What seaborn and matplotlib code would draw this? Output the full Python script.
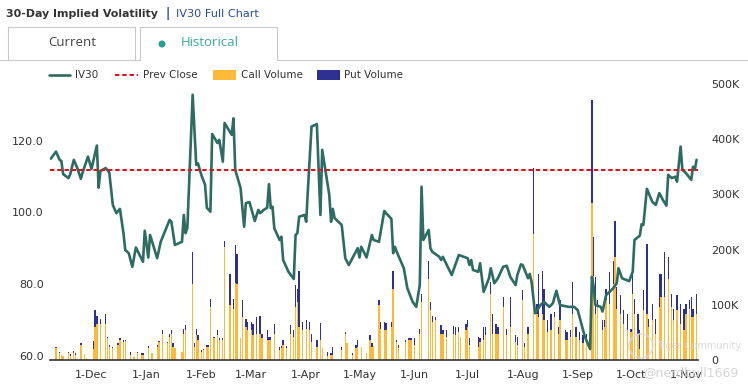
import pandas as pd
import seaborn as sns
import matplotlib.pyplot as plt
import matplotlib.ticker as mticker
from matplotlib.lines import Line2D
from matplotlib.patches import Rectangle, Circle

# all day offsets are counted from 1-Dec-2022
base = pd.Timestamp("2022-12-01")

# IV30 line (vertices)
iv_day = [-23, -20, -18, -17, -16, -13, -12, -10, -8, -6, -5, -2, 0, 3, 4, 5, 8, 10, 12, 14,
          16, 18, 19, 21, 23, 25, 29, 30, 32, 33, 37, 39, 44, 45, 47, 51, 52, 53, 54, 57,
          59, 60, 62, 64, 65, 67, 68, 71, 72, 74, 75, 79, 80, 81, 84, 86, 87, 89, 92, 94,
          95, 97, 99, 100, 101, 102, 103, 106, 107, 108, 111, 114, 115, 116, 117, 120, 121, 122, 124, 127,
          129, 130, 134, 135, 136, 137, 141, 143, 145, 150, 151, 152, 155, 158, 159, 162, 165, 166, 169, 170,
          171, 172, 176, 178, 181, 183, 185, 186, 187, 190, 191, 192, 196, 197, 198, 203, 207, 212, 213, 214,
          215, 218, 219, 221, 224, 225, 227, 229, 232, 234, 236, 239, 240, 242, 243, 246, 247, 248, 250, 253,
          255, 258, 260, 262, 264, 269, 272, 274, 278, 281, 282, 283, 284, 287, 288, 290, 294, 296, 297, 299,
          303, 305, 306, 309, 310, 311, 313, 316, 318, 320, 322, 324, 325, 327, 329, 330, 332, 333, 335, 338,
          339, 340, 341]
iv30 = [115.0, 117.0, 114.7, 114.4, 110.7, 109.6, 110.7, 114.7, 112.4, 109.4, 111.2, 115.6, 112.2, 118.7, 106.9, 111.6, 112.4, 111.2, 102.1, 99.8,
        101.0, 94.2, 89.5, 88.6, 84.8, 90.2, 86.2, 94.9, 87.4, 93.7, 87.2, 91.8, 97.9, 97.4, 90.9, 91.8, 99.3, 94.2, 95.6, 132.9,
        113.3, 113.7, 110.3, 107.7, 101.3, 100.2, 121.9, 119.4, 120.3, 114.2, 125.0, 121.7, 126.3, 111.9, 106.8, 96.0, 102.6, 102.9, 97.6, 100.7,
        99.8, 100.7, 101.3, 107.9, 101.2, 101.6, 95.6, 92.3, 93.2, 86.7, 83.4, 81.4, 93.7, 94.2, 98.8, 99.3, 97.4, 106.8, 124.0, 124.7,
        99.3, 117.5, 104.9, 97.4, 101.0, 98.4, 96.5, 87.2, 85.3, 90.0, 87.4, 90.4, 87.4, 93.7, 92.3, 91.8, 100.4, 99.8, 98.2, 88.6,
        90.4, 89.0, 84.4, 78.8, 75.0, 73.6, 79.7, 107.2, 92.3, 95.1, 90.0, 89.0, 87.6, 86.7, 87.6, 82.5, 88.1, 87.2, 85.3, 86.7,
        83.9, 83.4, 85.8, 77.8, 81.6, 84.4, 80.2, 81.6, 84.8, 85.1, 82.0, 79.7, 82.5, 85.5, 85.3, 81.6, 82.8, 80.6, 71.8, 74.1,
        75.0, 73.6, 74.6, 78.1, 74.1, 73.6, 73.6, 72.7, 65.3, 61.8, 82.0, 79.2, 74.1, 73.6, 72.3, 76.9, 78.8, 80.2, 84.4, 81.6,
        80.8, 83.4, 92.3, 93.5, 96.7, 96.5, 106.6, 103.0, 102.1, 105.4, 103.5, 101.9, 110.5, 109.6, 110.0, 108.6, 118.4, 111.9, 111.0, 109.1,
        112.8, 111.9, 114.7]
prev_close = 111.9

# option volume bars, in thousands of contracts
bar_day = [-23, -20, -18, -17, -16, -13, -12, -10, -9, -6, -4, -3, 1, 2, 3, 5, 8, 9, 10, 12,
           15, 16, 18, 19, 22, 24, 26, 28, 29, 32, 34, 37, 38, 40, 43, 44, 45, 46, 47, 51,
           52, 53, 57, 58, 59, 60, 62, 63, 65, 66, 67, 69, 71, 72, 74, 75, 78, 80, 81, 82,
           84, 85, 87, 88, 90, 91, 93, 95, 96, 99, 100, 101, 103, 106, 107, 108, 110, 112, 114, 115,
           116, 117, 119, 121, 123, 124, 127, 129, 130, 133, 135, 136, 141, 143, 144, 147, 149, 150, 152, 155,
           157, 158, 159, 162, 163, 165, 166, 169, 170, 172, 173, 177, 179, 180, 182, 185, 186, 190, 191, 192,
           194, 197, 198, 200, 204, 205, 207, 208, 211, 212, 213, 218, 219, 221, 222, 225, 226, 228, 229, 232,
           234, 236, 239, 240, 243, 244, 246, 249, 251, 252, 254, 255, 257, 259, 261, 263, 264, 267, 268, 270,
           271, 273, 275, 277, 279, 282, 283, 284, 285, 288, 289, 290, 292, 294, 295, 296, 298, 300, 302, 304,
           305, 306, 308, 309, 311, 313, 314, 316, 318, 320, 321, 323, 325, 327, 328, 330, 332, 334, 335, 337,
           338, 339, 341]
call_vol = [2, 21, 12, 9, 7, 12, 7, 13, 9, 27, 11, 3, 20, 60, 66, 65, 66, 39, 24, 21,
            27, 37, 33, 35, 9, 6, 12, 9, 9, 21, 12, 24, 33, 48, 30, 42, 48, 24, 21, 15,
            48, 54, 138, 24, 45, 36, 15, 18, 24, 24, 96, 39, 45, 36, 37, 204, 99, 93, 139, 138,
            39, 78, 60, 54, 54, 45, 48, 48, 39, 36, 36, 36, 48, 19, 21, 27, 21, 48, 42, 96,
            105, 60, 54, 57, 54, 33, 24, 36, 21, 7, 9, 9, 19, 48, 30, 9, 21, 24, 24, 12,
            36, 24, 25, 99, 57, 54, 54, 60, 129, 33, 21, 33, 36, 36, 27, 48, 105, 147, 90, 69,
            72, 48, 48, 42, 48, 45, 51, 41, 54, 60, 27, 24, 33, 36, 45, 120, 48, 48, 48, 96,
            45, 60, 33, 27, 108, 24, 48, 228, 84, 78, 84, 72, 51, 54, 78, 48, 72, 36, 36, 42,
            84, 42, 36, 30, 39, 285, 153, 84, 96, 54, 60, 108, 102, 138, 186, 93, 84, 66, 54, 50,
            120, 84, 48, 20, 90, 84, 60, 72, 48, 96, 114, 114, 147, 96, 72, 90, 66, 54, 84, 93,
            78, 78, 84]
put_vol = [0, 3, 3, 0, 0, 3, 4, 4, 4, 3, 0, 0, 15, 30, 13, 10, 18, 3, 3, 3,
           3, 2, 4, 2, 6, 0, 3, 3, 4, 4, 0, 3, 2, 6, 3, 6, 6, 6, 0, 0,
           9, 9, 57, 6, 12, 9, 3, 2, 3, 3, 15, 2, 9, 3, 2, 12, 57, 18, 70, 54,
           0, 31, 15, 15, 15, 20, 30, 31, 9, 19, 5, 5, 18, 4, 4, 10, 4, 15, 12, 39,
           24, 102, 15, 15, 15, 15, 12, 31, 0, 8, 4, 15, 5, 3, 0, 3, 6, 12, 0, 0,
           9, 6, 0, 10, 12, 15, 13, 9, 32, 4, 6, 4, 3, 3, 12, 9, 15, 33, 15, 10,
           6, 15, 6, 12, 13, 15, 9, 0, 11, 12, 12, 18, 6, 24, 15, 21, 36, 18, 12, 18,
           12, 54, 12, 15, 18, 6, 12, 120, 18, 78, 78, 57, 21, 30, 9, 12, 36, 18, 15, 12,
           57, 18, 15, 15, 9, 186, 69, 66, 12, 18, 12, 21, 57, 42, 66, 39, 33, 24, 30, 7,
           36, 27, 36, 34, 37, 126, 15, 30, 27, 60, 42, 81, 39, 24, 21, 27, 36, 39, 18, 15,
           36, 15, 36]

month_ticks = pd.date_range("2022-12-01", "2023-11-01", freq="MS")
month_labels = ["1-" + d.strftime("%b") for d in month_ticks]

iv_df = pd.DataFrame({"date": base + pd.to_timedelta(iv_day, unit="D"), "iv30": iv30})
bar_dates = base + pd.to_timedelta(bar_day, unit="D")

teal = "#2d6b63"
call_col = "#fdb93a"
put_col = "#2e3192"
red = "#e0101e"
txt = "#333333"

sns.set_theme(style="white")
plt.rcParams["font.family"] = ["DejaVu Sans"]

fig = plt.figure(figsize=(7.48, 3.87), dpi=100)
W, H = 748, 387
ax = fig.add_axes([50 / W, (H - 360) / H, 648 / W, 276 / H])

# stacked volume bars (right scale)
ax.bar(bar_dates, call_vol, width=0.75, color=call_col, linewidth=0)
ax.bar(bar_dates, put_vol, bottom=call_vol, width=0.75, color=put_col, linewidth=0)
ax.set_ylim(0, 500)

ax2 = ax.twinx()
ax.yaxis.tick_right()
ax2.yaxis.tick_left()
sns.lineplot(data=iv_df, x="date", y="iv30", ax=ax2, color=teal, linewidth=1.9)
ax2.axhline(prev_close, color=red, linewidth=1.45, dashes=(2.2, 1.4))
ax2.set_ylim(58.75, 135.9)
ax2.set_yticks([60, 80, 100, 120])
ax2.yaxis.set_major_formatter(mticker.FormatStrFormatter("%.1f"))

ax.set_xlim(base + pd.Timedelta(days=-23.4), base + pd.Timedelta(days=341.8))
ax.set_xticks(month_ticks)
ax.set_xticklabels(month_labels)
ax.set_yticks([0, 100, 200, 300, 400, 500])
ax.set_yticklabels(["0", "100K", "200K", "300K", "400K", "500K"])

for a in (ax, ax2):
    a.set_xlabel("")
    a.set_ylabel("")
    for s in a.spines.values():
        s.set_visible(False)
    a.grid(False)
ax.spines["bottom"].set_visible(True)
ax.spines["bottom"].set_color("#333333")
ax.spines["bottom"].set_linewidth(1.2)
ax.tick_params(axis="x", length=0, pad=7, labelsize=8, labelcolor=txt)
ax.tick_params(axis="y", length=0, pad=9.5, labelsize=8, labelcolor=txt)
ax2.tick_params(axis="y", length=0, pad=4.5, labelsize=8, labelcolor=txt)
ax.patch.set_visible(False)

# page furniture: title, tabs, legend, watermark
ov = fig.add_axes([0, 0, 1, 1], zorder=5)
ov.set_xlim(0, W)
ov.set_ylim(H, 0)
ov.axis("off")
ov.patch.set_visible(False)

ov.text(6, 14, "30-Day Implied Volatility", fontsize=7.9, fontweight="bold", color=txt, va="center")
ov.text(166, 14, "|", fontsize=8.3, fontweight="bold", color="#1f3b8a", va="center")
ov.text(176, 14, "IV30 Full Chart", fontsize=8.1, color="#2b4c9a", va="center")

tab_col = "#c9c9c9"
ov.add_line(Line2D([8, 8, 135, 135], [59.5, 27, 27, 59.5], color=tab_col, lw=0.8))
ov.add_line(Line2D([140, 140, 277, 277], [59.5, 27, 27, 59.5], color=tab_col, lw=0.8))
ov.add_line(Line2D([0, 140], [59.5, 59.5], color=tab_col, lw=0.8))
ov.add_line(Line2D([277, W], [59.5, 59.5], color=tab_col, lw=0.8))
ov.text(72, 43, "Current", fontsize=9.5, color="#444444", ha="center", va="center", family="Open Sans")
ov.add_patch(Circle((162, 44), 2.8, color="#27a096"))
ov.text(181, 43, "Historical", fontsize=9.5, color="#3aa89a", va="center", family="Open Sans")

ov.add_line(Line2D([49, 70], [75, 75], color=teal, lw=1.9))
ov.text(75, 75, "IV30", fontsize=7.5, color=txt, va="center")
ov.add_line(Line2D([115, 138], [75, 75], color=red, lw=1.45, dashes=(2.2, 1.4)))
ov.text(143, 75, "Prev Close", fontsize=7.5, color=txt, va="center")
ov.add_patch(Rectangle((213, 70), 23, 10, color=call_col, lw=0))
ov.text(241, 75, "Call Volume", fontsize=7.5, color=txt, va="center")
ov.add_patch(Rectangle((317, 70), 23, 10, color=put_col, lw=0))
ov.text(344, 75, "Put Volume", fontsize=7.5, color=txt, va="center")

# faint watermark
ov.add_patch(Circle((641, 346), 12, fill=False, ec="#d8d8d8", lw=1.2, alpha=0.8))
ov.text(657, 346, "Tiger Community", fontsize=7, color="#d6d6d6", va="center", alpha=0.9)
ov.text(643, 373, "@nerdbull1669", fontsize=9, color="#cfcfcf", va="center", alpha=0.9)

fig.savefig("out.png", dpi=100)
